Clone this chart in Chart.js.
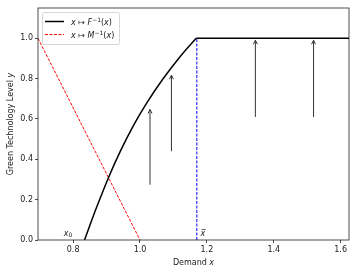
<!DOCTYPE html>
<html>
<head>
<meta charset="utf-8">
<script src="https://cdn.jsdelivr.net/npm/chart.js@4.4.0/dist/chart.umd.min.js"></script>
<style>
    html, body { margin: 0; padding: 0; background: #fff; }
</style>
</head>
<body>
<canvas id="myChart" width="358" height="272"></canvas>
<script>
"use strict"

// dati
const fX = [0.834, 0.868, 0.906, 0.942, 0.984, 1.019, 1.069, 1.118, 1.168];
const fY = [0.0, 0.152, 0.310, 0.443, 0.578, 0.676, 0.799, 0.905, 1.0];
const flatX = [1.168, 1.63];
const flatY = [1.0, 1.0];
const mX = [0.695, 1.0];
const mY = [1.0, 0.0];
const xBar = 1.170;
const x0 = 0.834;
const arrowX = [1.030, 1.094, 1.345, 1.519];
const arrowFrom = [0.274, 0.44, 0.61, 0.61];
const arrowTo = [0.647, 0.817, 0.99, 0.99];
const xTicks = [0.8, 1.0, 1.2, 1.4, 1.6];
const yTicks = [0.0, 0.2, 0.4, 0.6, 0.8, 1.0];

const FONT = "'DejaVu Sans'";

function punti(xs, ys) {
    return xs.map(function (x, i) { return { x: x, y: ys[i] }; });
}

// testo con parti in corsivo / apici / pedici
function larghezza(ctx, parti) {
    let w = 0;
    parti.forEach(function (p) {
        ctx.font = (p.it ? "italic " : "") + (p.s || 8) + "px " + FONT;
        w += ctx.measureText(p.t).width;
    });
    return w;
}
function scriviRich(ctx, parti, x, y, align) {
    let w = larghezza(ctx, parti);
    let cx = x;
    if (align == "center") cx = x - w / 2;
    ctx.textAlign = "left";
    ctx.textBaseline = "alphabetic";
    parti.forEach(function (p) {
        ctx.font = (p.it ? "italic " : "") + (p.s || 8) + "px " + FONT;
        ctx.fillText(p.t, cx, y + (p.dy || 0));
        cx += ctx.measureText(p.t).width;
    });
    return w;
}

const extra = {
    id: "extra",
    afterDraw: function (chart) {
        const ctx = chart.ctx;
        const a = chart.chartArea;
        const sx = chart.scales.x;
        const sy = chart.scales.y;
        ctx.save();

        // frecce
        ctx.strokeStyle = "#333";
        ctx.lineWidth = 1;
        arrowX.forEach(function (x, i) {
            let px = sx.getPixelForValue(x);
            let py = sy.getPixelForValue(arrowTo[i]);
            ctx.beginPath();
            ctx.moveTo(px - 2, py + 4);
            ctx.lineTo(px, py);
            ctx.lineTo(px + 2, py + 4);
            ctx.stroke();
        });

        // cornice
        ctx.strokeStyle = "#222";
        ctx.lineWidth = 0.8;
        ctx.strokeRect(a.left, a.top, a.right - a.left, a.bottom - a.top);

        // etichette x0 e x barra
        ctx.fillStyle = "#222";
        let lx = sx.getPixelForValue(0.772);
        let ly = sy.getPixelForValue(0.02);
        scriviRich(ctx, [{ t: "x", it: true }, { t: "0", s: 6, dy: 1.5 }], lx, ly, "left");
        let bx = sx.getPixelForValue(1.181);
        let w = scriviRich(ctx, [{ t: "x", it: true }], bx, ly, "left");
        ctx.strokeStyle = "#222";
        ctx.lineWidth = 0.7;
        ctx.beginPath();
        ctx.moveTo(bx + 1, ly - 6.5);
        ctx.lineTo(bx + w + 0.5, ly - 6.5);
        ctx.stroke();

        // legenda
        ctx.fillStyle = "rgba(255,255,255,0.8)";
        ctx.strokeStyle = "#cccccc";
        ctx.lineWidth = 0.8;
        ctx.beginPath();
        ctx.roundRect(42.5, 12.5, 77, 32, 2);
        ctx.fill();
        ctx.stroke();

        ctx.lineWidth = 1.5;
        ctx.strokeStyle = "#000";
        ctx.beginPath();
        ctx.moveTo(45, 21.5);
        ctx.lineTo(64, 21.5);
        ctx.stroke();
        ctx.lineWidth = 1;
        ctx.strokeStyle = "#ff0000";
        ctx.setLineDash([3, 1.5]);
        ctx.beginPath();
        ctx.moveTo(45, 34.5);
        ctx.lineTo(64, 34.5);
        ctx.stroke();
        ctx.setLineDash([]);

        ctx.fillStyle = "#222";
        scriviRich(ctx, [{ t: "x", it: true }, { t: " \u21a6 " }, { t: "F", it: true },
            { t: "\u22121", s: 6, dy: -3 }, { t: "(" }, { t: "x", it: true }, { t: ")" }], 71, 24.5, "left");
        scriviRich(ctx, [{ t: "x", it: true }, { t: " \u21a6 " }, { t: "M", it: true },
            { t: "\u22121", s: 6, dy: -3 }, { t: "(" }, { t: "x", it: true }, { t: ")" }], 71, 37.5, "left");

        // titoli assi
        scriviRich(ctx, [{ t: "Demand " }, { t: "x", it: true }], (a.left + a.right) / 2, 265, "center");
        ctx.translate(13, (a.top + a.bottom) / 2);
        ctx.rotate(-Math.PI / 2);
        scriviRich(ctx, [{ t: "Green Technology Level " }, { t: "y", it: true }], 0, 0, "center");

        ctx.restore();
    }
};

function creaChart() {
    const ctx = document.getElementById("myChart");

    let datasets = [
        { data: punti(fX, fY), borderColor: "#000", borderWidth: 1.5, cubicInterpolationMode: "monotone" },
        { data: punti(flatX, flatY), borderColor: "#000", borderWidth: 1.5 },
        { data: punti(mX, mY), borderColor: "#ff0000", borderWidth: 1, borderDash: [3, 1.5] },
        { data: punti([xBar, xBar], [0, 1]), borderColor: "#0000ff", borderWidth: 1, borderDash: [3, 1.5] }
    ];
    arrowX.forEach(function (x, i) {
        datasets.push({ data: punti([x, x], [arrowFrom[i], arrowTo[i]]), borderColor: "#333", borderWidth: 1 });
    });
    datasets.forEach(function (d) {
        d.showLine = true;
        d.pointRadius = 0;
        d.fill = false;
    });

    new Chart(ctx, {
        type: "scatter",
        data: { datasets: datasets },
        options: {
            responsive: false,
            animation: false,
            layout: { padding: { left: 0, right: 9, top: 8, bottom: 0 } },
            plugins: { legend: { display: false }, tooltip: { enabled: false } },
            scales: {
                x: {
                    type: "linear",
                    min: 0.695,
                    max: 1.625,
                    afterFit: function (s) { s.height = 32; },
                    afterBuildTicks: function (s) { s.ticks = xTicks.map(function (v) { return { value: v }; }); },
                    grid: { display: true, drawOnChartArea: false, drawTicks: true, tickLength: 3, color: "#222", lineWidth: 0.8 },
                    border: { display: false },
                    ticks: {
                        padding: 2,
                        color: "#222",
                        font: { family: "DejaVu Sans", size: 8 },
                        maxRotation: 0,
                        callback: function (v) { return v.toFixed(1); }
                    }
                },
                y: {
                    type: "linear",
                    min: 0,
                    max: 1.15,
                    afterFit: function (s) { s.width = 38; },
                    afterBuildTicks: function (s) { s.ticks = yTicks.map(function (v) { return { value: v }; }); },
                    grid: { display: true, drawOnChartArea: false, drawTicks: true, tickLength: 3, color: "#222", lineWidth: 0.8 },
                    border: { display: false },
                    ticks: {
                        padding: 2,
                        color: "#222",
                        font: { family: "DejaVu Sans", size: 8 },
                        callback: function (v) { return v.toFixed(1); }
                    }
                }
            }
        },
        plugins: [extra]
    });
}

creaChart();
</script>
</body>
</html>
